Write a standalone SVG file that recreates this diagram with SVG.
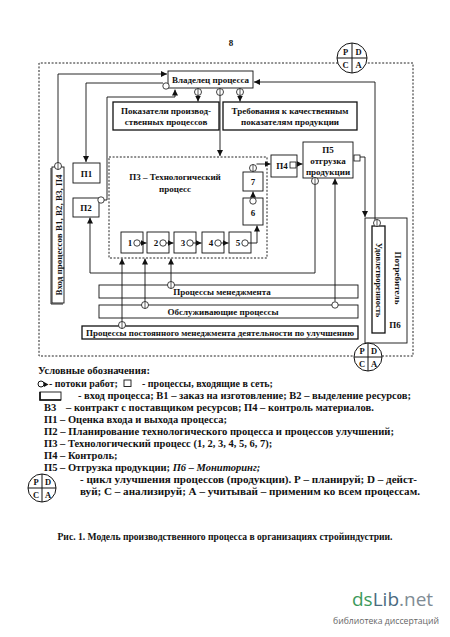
<svg xmlns="http://www.w3.org/2000/svg" width="450" height="637" viewBox="0 0 450 637">
<style>
text{font-family:"Liberation Serif","DejaVu Serif",serif;font-weight:bold;fill:#111}
.b{fill:#fff;stroke:#111;stroke-width:0.9}
.bb{fill:#fff;stroke:#111;stroke-width:1.3}
.d{fill:none;stroke:#222;stroke-width:1;stroke-dasharray:2,1.6}
.c{fill:none;stroke:#111;stroke-width:0.9}
.ca{fill:none;stroke:#111;stroke-width:0.9;marker-end:url(#ah)}
.t9{font-size:9px}
.t8{font-size:8.5px}
.m{text-anchor:middle}
.lg{font-size:10.5px}
.pc{fill:#fff;stroke:#111;stroke-width:1}
.pl{stroke:#111;stroke-width:1}
.pt{font-size:8.5px;text-anchor:middle}
</style>
<defs>
<marker id="ah" viewBox="0 0 8 8" refX="8" refY="4" markerWidth="6" markerHeight="6" markerUnits="userSpaceOnUse" orient="auto"><path d="M0,0 L8,4 L0,8 z" fill="#111"/></marker>
<g id="oc"><circle r="3.5" fill="#fff" stroke="#111" stroke-width="0.8"/><line x1="0" y1="-3.5" x2="0" y2="3.5" stroke="#111" stroke-width="0.7"/></g>
<g id="oo"><circle r="3.2" fill="#fff" stroke="#111" stroke-width="0.8"/></g>
<g id="sq"><rect x="-3" y="-3" width="6" height="6" fill="#fff" stroke="#111" stroke-width="0.8"/></g>
</defs>

<text x="231" y="46" class="t9 m">8</text>

<!-- outer dashed frame -->
<g id="frame">
<path class="d" d="M338,63 H39 V356 H355 M382,356 H413 V63 H366"/>
</g>

<g id="pdca-top">
<circle class="pc" cx="352" cy="58" r="15"/>
<line class="pl" x1="337" y1="58" x2="367" y2="58"/>
<line class="pl" x1="352" y1="43" x2="352" y2="73"/>
<text x="345.5" y="55" class="pt">P</text><text x="358.5" y="55" class="pt">D</text>
<text x="345.5" y="68" class="pt">C</text><text x="358.5" y="68" class="pt">A</text>
</g>

<g id="owner"><rect class="b" x="168" y="71" width="85" height="17"/><text x="210.5" y="83" class="t9 m">Владелец процесса</text></g>

<g id="indicators"><rect class="bb" x="113" y="102" width="106" height="28"/>
<text x="166" y="114" class="t9 m">Показатели производ-</text><text x="166" y="125" class="t9 m">ственных процессов</text></g>

<g id="requirements"><rect class="bb" x="223" y="102" width="134" height="28"/>
<text x="290" y="114" class="t9 m">Требования к качественным</text><text x="290" y="125" class="t9 m">показателям продукции</text></g>

<g id="input"><rect class="b" x="52" y="167" width="12" height="136"/><path class="c" d="M51,168 V304 H63" stroke-width="1.6"/>
<text transform="translate(61.5,235) rotate(-90)" class="t9 m">Вход процессов В1, В2, В3, П4</text></g>

<g id="p1"><rect class="b" x="73" y="163" width="27" height="20"/><text x="86.5" y="177" class="t9 m">П1</text></g>
<g id="p2"><rect class="b" x="73" y="198" width="26" height="19"/><text x="86" y="211" class="t9 m">П2</text></g>

<g id="p3"><path class="d" d="M109,157 H267 V258 H109 Z"/>
<text x="175" y="180" class="t9 m">П3 – Технологический</text><text x="175" y="192" class="t9 m">процесс</text></g>

<g id="s1"><rect class="b" x="121" y="232" width="22" height="21"/><text x="130" y="246" class="t9 m">1</text></g>
<g id="s2"><rect class="b" x="147" y="232" width="22" height="21"/><text x="156" y="246" class="t9 m">2</text></g>
<g id="s3"><rect class="b" x="174" y="232" width="22" height="21"/><text x="183" y="246" class="t9 m">3</text></g>
<g id="s4"><rect class="b" x="202" y="232" width="22" height="21"/><text x="211" y="246" class="t9 m">4</text></g>
<g id="s5"><rect class="b" x="229" y="232" width="22" height="21"/><text x="238" y="246" class="t9 m">5</text></g>
<g id="s6"><rect class="b" x="243" y="198" width="20" height="27"/><text x="253" y="216" class="t9 m">6</text></g>
<g id="s7"><rect class="b" x="243" y="172" width="20" height="19"/><text x="253" y="185" class="t9 m">7</text></g>

<g id="p4"><rect class="b" x="271" y="155" width="26" height="22"/><text x="282" y="169" class="t9 m">П4</text></g>
<g id="p5"><rect class="b" x="303" y="142" width="50" height="36"/>
<text x="328" y="153" class="t9 m">П5</text><text x="328" y="164" class="t9 m">отгрузка</text><text x="328" y="175" class="t9 m">продукции</text></g>

<g id="consumer"><rect class="b" x="365" y="218" width="42" height="125"/>
<text transform="translate(395,278) rotate(90)" class="t9 m">Потребитель</text>
<text x="395" y="328" class="t9 m">П6</text></g>
<g id="satisfaction"><rect class="bb" x="372" y="226" width="13" height="107"/>
<text transform="translate(375.5,280) rotate(90)" class="t8 m">Удовлетворенность</text></g>

<g id="mgmt"><rect class="b" x="99" y="285" width="259" height="13"/><text x="222" y="295" class="t9 m">Процессы менеджмента</text></g>
<g id="service"><rect class="b" x="99" y="305" width="259" height="13"/><text x="223" y="315" class="t9 m">Обслуживающие процессы</text></g>
<g id="improve"><rect class="bb" x="82" y="326" width="276" height="13"/><text x="220" y="336" class="t9 m" textLength="268" lengthAdjust="spacingAndGlyphs">Процессы постоянного менеджмента деятельности по улучшению</text></g>

<g id="connectors">
<path class="ca" d="M58,163 V74 H167"/>
<path class="ca" d="M163,83 H86 V162"/>
<path class="ca" d="M104,200 H107 V97 H175 V89.5"/>
<path class="ca" d="M198,95.5 V101.5"/>
<path class="ca" d="M220,95.5 V156"/>
<path class="ca" d="M240,95.5 V101.5"/>
<path class="ca" d="M375,220 V82 H254"/>
<path class="ca" d="M360,157 H365 V217"/>
<path class="ca" d="M297,164 H302.5"/>
<path class="ca" d="M256.5,164 H270.5"/>
<path class="ca" d="M253,197.5 V191.5"/>
<path class="ca" d="M248,243 H257 V225.5"/>
<path class="ca" d="M140,243 H146.5"/>
<path class="ca" d="M166,243 H173.5"/>
<path class="ca" d="M193,243 H201.5"/>
<path class="ca" d="M221,243 H228.5"/>
<path class="ca" d="M315,184.5 V273 H90 V217.5"/>
<path class="ca" d="M171,281.5 V258.5"/>
<path class="ca" d="M145,301.5 V258.5"/>
<path class="ca" d="M122,321.5 V258.5"/>
<path class="ca" d="M335,301.5 V178.5"/>
</g>

<g id="ports">
<use href="#oc" x="58" y="166"/>
<use href="#oo" x="166" y="86"/>
<use href="#oo" x="101" y="200"/>
<use href="#oc" x="198" y="92"/>
<use href="#oc" x="220" y="92"/>
<use href="#oc" x="240" y="92"/>
<use href="#oc" x="377" y="223"/>
<use href="#sq" x="357" y="158"/>
<use href="#sq" x="293" y="165"/>
<use href="#oc" x="253" y="168"/>
<use href="#oo" x="253" y="201"/>
<use href="#oo" x="137" y="243"/>
<use href="#oo" x="163" y="243"/>
<use href="#oo" x="190" y="243"/>
<use href="#oo" x="218" y="243"/>
<use href="#oo" x="245" y="243"/>
<use href="#oc" x="315" y="181"/>
<use href="#oc" x="171" y="285"/>
<use href="#oc" x="145" y="305"/>
<use href="#oc" x="122" y="325"/>
<use href="#oo" x="335" y="305"/>
</g>

<g id="pdca-bottom">
<circle class="pc" cx="368" cy="357" r="14"/>
<line class="pl" x1="354" y1="357" x2="382" y2="357"/>
<line class="pl" x1="368" y1="343" x2="368" y2="371"/>
<text x="362" y="354" class="pt">P</text><text x="374" y="354" class="pt">D</text>
<text x="362" y="367" class="pt">C</text><text x="374" y="367" class="pt">A</text>
</g>

<!-- legend -->
<g id="legend">
<text x="38" y="374" class="lg">Условные обозначения:</text>
<circle cx="41" cy="384" r="3" fill="none" stroke="#111" stroke-width="1"/>
<path d="M44,382 L48.5,384.5 L44,387 z" fill="#111"/>
<text x="49" y="387" font-size="10px">- потоки работ;</text>
<rect x="124" y="380" width="7" height="6.5" fill="none" stroke="#111" stroke-width="0.9"/>
<text x="142" y="387" font-size="10px">- процессы, входящие в сеть;</text>
<rect x="40" y="392" width="21" height="8" fill="none" stroke="#111" stroke-width="0.9"/>
<path d="M40,392 V400 H61" fill="none" stroke="#111" stroke-width="1.6"/>
<text x="78" y="399" class="lg">- вход процесса; В1 – заказ на изготовление; В2 – выделение ресурсов;</text>
<text x="44" y="411" class="lg">В3</text>
<text x="66" y="411" class="lg">– контракт с поставщиком ресурсов; П4 – контроль материалов.</text>
<text x="44" y="423" class="lg">П1 – Оценка входа и выхода процесса;</text>
<text x="44" y="435" class="lg" textLength="350" lengthAdjust="spacingAndGlyphs">П2 – Планирование технологического процесса и процессов улучшений;</text>
<text x="44" y="447" class="lg">П3 – Технологический процесс (1, 2, 3, 4, 5, 6, 7);</text>
<text x="44" y="459" class="lg">П4 – Контроль;</text>
<text x="44" y="471" class="lg">П5 – Отгрузка продукции; <tspan font-style="italic">П6 – Мониторинг;</tspan></text>
<circle class="pc" cx="42" cy="488" r="14"/>
<line class="pl" x1="28" y1="488" x2="56" y2="488"/>
<line class="pl" x1="42" y1="474" x2="42" y2="502"/>
<text x="36" y="485" class="pt">P</text><text x="48" y="485" class="pt">D</text>
<text x="36" y="498" class="pt">C</text><text x="48" y="498" class="pt">A</text>
<text x="80" y="483" class="lg" textLength="337" lengthAdjust="spacingAndGlyphs">- цикл улучшения процессов (продукции). Р – планируй; D – дейст-</text>
<text x="80" y="495" class="lg" textLength="340" lengthAdjust="spacingAndGlyphs">вуй; С – анализируй; А – учитывай – применим ко всем процессам.</text>
</g>

<text x="225" y="540" class="m" font-size="9.6px">Рис. 1. Модель производственного процесса в организациях стройиндустрии.</text>

<g id="watermark">
<text x="352" y="606" style="font-family:'Open Sans','DejaVu Sans',sans-serif;font-weight:normal;font-size:19px"><tspan fill="#3d9a5c">ds</tspan><tspan fill="#4a6b80">Lib</tspan><tspan fill="#7f8c95">.net</tspan></text>
<text x="333" y="624" textLength="106" lengthAdjust="spacingAndGlyphs" style="font-family:'Open Sans','DejaVu Sans',sans-serif;font-weight:normal;font-size:9.5px;fill:#666">библиотека диссертаций</text>
</g>
</svg>
